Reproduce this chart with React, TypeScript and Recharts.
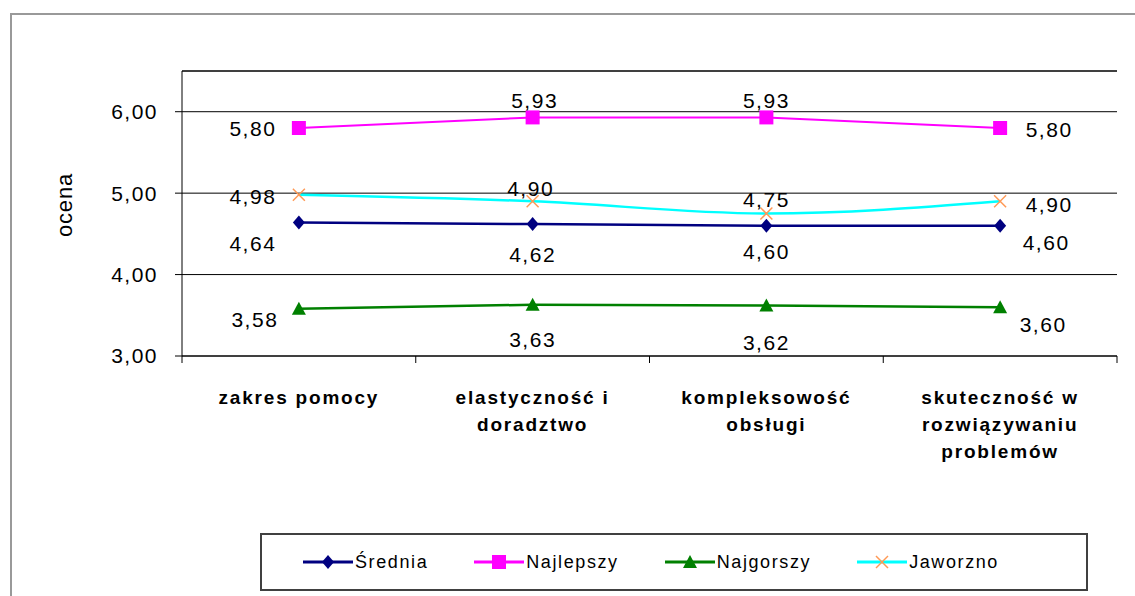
import { LineChart, Line, XAxis, YAxis, CartesianGrid, ReferenceLine, LabelList } from "recharts";

const categories = [
  "zakres pomocy",
  "elastyczność i\ndoradztwo",
  "kompleksowość\nobsługi",
  "skuteczność w\nrozwiązywaniu\nproblemów",
];
const srednia = [4.64, 4.62, 4.6, 4.6];
const najlepszy = [5.8, 5.93, 5.93, 5.8];
const najgorszy = [3.58, 3.63, 3.62, 3.6];
const jaworzno = [4.98, 4.9, 4.75, 4.9];
const yTicks = [3, 4, 5, 6];

const data = categories.map((name, i) => ({
  name,
  srednia: srednia[i],
  najlepszy: najlepszy[i],
  najgorszy: najgorszy[i],
  jaworzno: jaworzno[i],
}));

const FONT = "'Liberation Sans', Arial, sans-serif";
const BAND = (1117 - 182) / 4;
const fmt = (v: number) => v.toFixed(2).replace(".", ",");

const NAVY = "#000080";
const MAGENTA = "#FF00FF";
const GREEN = "#008000";
const CYAN = "#00FFFF";
const ORANGE = "#FF9955";

// marker shapes
const Diamond = ({ cx, cy }: any) =>
  cx == null ? <g /> : <path d={`M${cx},${cy - 7}L${cx + 6},${cy}L${cx},${cy + 7}L${cx - 6},${cy}Z`} fill={NAVY} />;
const Square = ({ cx, cy }: any) =>
  cx == null ? <g /> : <rect x={cx - 7} y={cy - 7} width={14} height={14} fill={MAGENTA} />;
const Triangle = ({ cx, cy }: any) =>
  cx == null ? <g /> : <path d={`M${cx},${cy - 7}L${cx + 7},${cy + 6}L${cx - 7},${cy + 6}Z`} fill={GREEN} />;
const Cross = ({ cx, cy }: any) =>
  cx == null ? (
    <g />
  ) : (
    <g stroke={ORANGE} strokeWidth={1.5}>
      <line x1={cx - 6} y1={cy - 6} x2={cx + 6} y2={cy + 6} />
      <line x1={cx - 6} y1={cy + 6} x2={cx + 6} y2={cy - 6} />
    </g>
  );

// label offsets per series, per point
const offsets: Record<string, number[][]> = {
  najlepszy: [[-46, 0], [2, -17], [0, -17], [49, 1]],
  jaworzno: [[-46, 2], [-2, -13], [0, -14], [49, 3]],
  srednia: [[-46, 21], [0, 30], [0, 26], [46, 17]],
  najgorszy: [[-44, 11], [0, 35], [0, 37], [43, 17]],
};

const makeLabel = (key: string) => (props: any) => {
  const { x, y, value, index } = props;
  const [dx, dy] = offsets[key][index] || [0, 0];
  return (
    <text
      x={x + dx}
      y={y + dy}
      textAnchor="middle"
      dominantBaseline="central"
      fontSize={21}
      letterSpacing={1.5}
      fontFamily={FONT}
      fill="#000"
    >
      {fmt(Number(value))}
    </text>
  );
};

const CategoryTick = (props: any) => {
  const { x, y, payload, index } = props;
  const lines = String(payload.value).split("\n");
  return (
    <g>
      <line x1={x - BAND / 2} y1={y} x2={x - BAND / 2} y2={y + 7} stroke="#000" />
      {index === categories.length - 1 && (
        <line x1={x + BAND / 2} y1={y} x2={x + BAND / 2} y2={y + 7} stroke="#000" />
      )}
      <text x={x} y={y + 48} textAnchor="middle" fontSize={19} fontWeight="bold" letterSpacing={1.8} fontFamily={FONT} fill="#000">
        {lines.map((l, i) => (
          <tspan key={i} x={x} dy={i === 0 ? 0 : 27}>
            {l}
          </tspan>
        ))}
      </text>
    </g>
  );
};

const legendItems = [
  { name: "Średnia", color: NAVY, Marker: Diamond },
  { name: "Najlepszy", color: MAGENTA, Marker: Square },
  { name: "Najgorszy", color: GREEN, Marker: Triangle },
  { name: "Jaworzno", color: CYAN, Marker: Cross },
];

const ChartLegend = () => (
  <div
    style={{
      position: "absolute",
      left: 260,
      top: 533,
      width: 783,
      height: 54,
      border: "2px solid #404040",
      display: "flex",
      alignItems: "center",
      paddingLeft: 41,
      gap: 46,
      boxSizing: "content-box",
      fontFamily: FONT,
    }}
  >
    {legendItems.map(({ name, color, Marker }) => (
      <div key={name} style={{ display: "flex", alignItems: "center" }}>
        <svg width={50} height={18}>
          <line x1={0} y1={9} x2={50} y2={9} stroke={color} strokeWidth={3} />
          <Marker cx={25} cy={9} />
        </svg>
        <span style={{ fontSize: 18, letterSpacing: 1.6, color: "#000", marginLeft: 2 }}>{name}</span>
      </div>
    ))}
  </div>
);

export default function App() {
  return (
    <div style={{ position: "absolute", left: 0, top: 0, width: 1135, height: 596, background: "#fff", overflow: "hidden" }}>
      <div
        style={{
          position: "absolute",
          left: 10,
          top: 13,
          width: 1135,
          height: 600,
          borderLeft: "2px solid #999",
          borderTop: "2px solid #999",
        }}
      />
      <div style={{ position: "absolute", left: 0, top: 0 }}>
        <LineChart width={1135} height={596} data={data} margin={{ top: 71, right: 18, bottom: 110, left: 0 }}>
          <CartesianGrid vertical={false} stroke="#000" />
          <XAxis
            dataKey="name"
            height={130}
            padding={{ left: BAND / 2, right: BAND / 2 }}
            tickLine={false}
            tickSize={0}
            tickMargin={0}
            axisLine={{ stroke: "#000" }}
            tick={<CategoryTick />}
            interval={0}
          />
          <YAxis
            width={182}
            domain={[3, 6.5]}
            ticks={yTicks}
            tickSize={7}
            tickMargin={17}
            tickLine={{ stroke: "#000" }}
            axisLine={{ stroke: "#000" }}
            tickFormatter={fmt}
            tick={{ fontSize: 21, fill: "#000", fontFamily: FONT, letterSpacing: 1.5 }}
            label={{
              content: () => (
                <text x={64} y={205} transform="rotate(-90 64 205)" textAnchor="middle" dominantBaseline="central" fontSize={22} letterSpacing={0.8} fontFamily={FONT} fill="#000">
                  ocena
                </text>
              ),
            }}
          />
          <YAxis yAxisId="r" orientation="right" width={0} domain={[3, 6.5]} tick={false} tickLine={false} axisLine={{ stroke: "#000" }} />
          <ReferenceLine y={6.5} stroke="#000" />
          <Line dataKey="srednia" stroke={NAVY} strokeWidth={2.5} dot={<Diamond />} isAnimationActive={false}>
            <LabelList dataKey="srednia" content={makeLabel("srednia")} />
          </Line>
          <Line dataKey="najlepszy" stroke={MAGENTA} strokeWidth={2} dot={<Square />} isAnimationActive={false}>
            <LabelList dataKey="najlepszy" content={makeLabel("najlepszy")} />
          </Line>
          <Line dataKey="najgorszy" stroke={GREEN} strokeWidth={2.5} dot={<Triangle />} isAnimationActive={false}>
            <LabelList dataKey="najgorszy" content={makeLabel("najgorszy")} />
          </Line>
          <Line type="monotone" dataKey="jaworzno" stroke={CYAN} strokeWidth={2.5} dot={<Cross />} isAnimationActive={false}>
            <LabelList dataKey="jaworzno" content={makeLabel("jaworzno")} />
          </Line>
        </LineChart>
      </div>
      <ChartLegend />
    </div>
  );
}
